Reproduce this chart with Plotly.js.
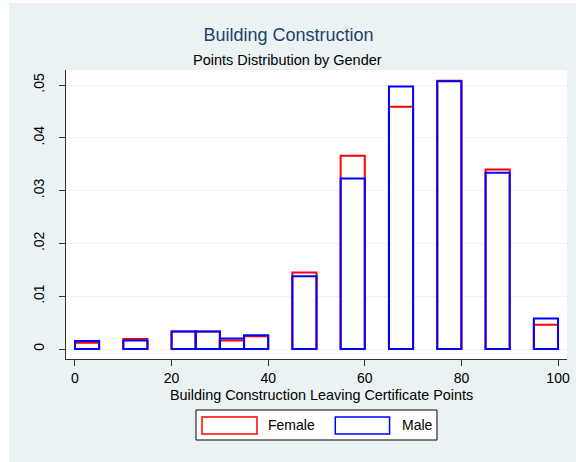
<!DOCTYPE html>
<html>
<head>
<meta charset="utf-8">
<script src="https://cdn.plot.ly/plotly-3.0.1.min.js"></script>
<style>
  html, body { margin: 0; padding: 0; background: #ffffff; }
  #chart { position: absolute; left: 9px; top: 3px; width: 567px; height: 459px; }
</style>
</head>
<body>
<div id="chart"></div>
<script>
// Histogram bins (width 5), bin centres
const binCenters = [2.5, 12.5, 22.5, 27.5, 32.5, 37.5, 47.5, 57.5, 67.5, 77.5, 87.5, 97.5];
const binWidth = 5;
// Densities
const femaleDensity = [0.0012, 0.0019, 0.0033, 0.0033, 0.0016, 0.0024, 0.0145, 0.0366, 0.0459, 0.0508, 0.0340, 0.0046];
const maleDensity   = [0.0015, 0.0016, 0.0033, 0.0033, 0.0020, 0.0026, 0.0138, 0.0323, 0.0497, 0.0507, 0.0334, 0.0058];
const seriesNames = ["Female", "Male"];
const xTickVals = [0, 20, 40, 60, 80, 100];
const yTickVals = [0, 0.01, 0.02, 0.03, 0.04, 0.05];
const yTickText = ["0", ".01", ".02", ".03", ".04", ".05"];

const FONT = "Liberation Sans, Arial, sans-serif";
const BG = "#EAF2F3";

const traces = [
  {
    type: "bar", name: seriesNames[0], x: binCenters, y: femaleDensity,
    width: binCenters.map(() => binWidth),
    marker: { color: "#FFFFFF", line: { color: "#FF0000", width: 2 } },
    hoverinfo: "x+y"
  },
  {
    type: "bar", name: seriesNames[1], x: binCenters, y: maleDensity,
    width: binCenters.map(() => binWidth),
    marker: { color: "rgba(0,0,0,0)", line: { color: "#0000FF", width: 2 } },
    hoverinfo: "x+y"
  }
];

// legend geometry (paper coords)
const L = { x0: 0.2595, x1: 0.7405, y0: -0.2803, y1: -0.1765 };
const layout = {
  width: 567, height: 459,
  paper_bgcolor: BG, plot_bgcolor: "#FFFFFF",
  margin: { l: 57, r: 9, t: 67, b: 103, pad: 0 },
  barmode: "overlay",
  showlegend: false,
  font: { family: FONT, size: 14, color: "#000000" },
  title: {
    text: "Building Construction",
    font: { family: FONT, size: 18, color: "#1F3F6E" },
    x: 0.493, xanchor: "center", xref: "container",
    y: 0.932, yanchor: "middle", yref: "container"
  },
  xaxis: {
    range: [-1.86, 101.86],
    tickvals: xTickVals,
    ticks: "outside", ticklen: 6, tickwidth: 1, tickcolor: "#333333",
    showline: true, linecolor: "#333333", linewidth: 1,
    showgrid: false, zeroline: false,
    tickfont: { family: FONT, size: 14, color: "#000000" }
  },
  yaxis: {
    range: [-0.00189, 0.05284],
    tickvals: yTickVals, ticktext: yTickText,
    tickangle: -90,
    ticks: "outside", ticklen: 6, tickwidth: 1, tickcolor: "#333333",
    ticklabelstandoff: 9,
    showline: true, linecolor: "#333333", linewidth: 1,
    showgrid: true, gridcolor: BG, gridwidth: 1,
    zeroline: false,
    tickfont: { family: FONT, size: 14, color: "#000000" }
  },
  annotations: [
    { text: "Points Distribution by Gender", xref: "paper", yref: "paper",
      x: 0.443, y: 1.036, xanchor: "center", yanchor: "middle", showarrow: false,
      font: { family: FONT, size: 14.5, color: "#000000" } },
    { text: "Building Construction Leaving Certificate Points", xref: "paper", yref: "paper",
      x: 0.509, y: -0.123, xanchor: "center", yanchor: "middle", showarrow: false,
      font: { family: FONT, size: 14.4, color: "#000000" } },
    { text: seriesNames[0], xref: "paper", yref: "paper",
      x: 0.3992, y: -0.2301, xanchor: "left", yanchor: "middle", showarrow: false,
      font: { family: FONT, size: 14, color: "#000000" } },
    { text: seriesNames[1], xref: "paper", yref: "paper",
      x: 0.6667, y: -0.2301, xanchor: "left", yanchor: "middle", showarrow: false,
      font: { family: FONT, size: 14, color: "#000000" } }
  ],
  shapes: [
    { type: "rect", xref: "paper", yref: "paper", x0: L.x0, x1: L.x1, y0: L.y0, y1: L.y1,
      fillcolor: "#FFFFFF", line: { color: "#000000", width: 1 } },
    { type: "rect", xref: "paper", yref: "paper", x0: 0.2715, x1: 0.3812, y0: -0.2595, y1: -0.2007,
      fillcolor: "#FFFFFF", line: { color: "#FF0000", width: 1.5 } },
    { type: "rect", xref: "paper", yref: "paper", x0: 0.5375, x1: 0.6459, y0: -0.2595, y1: -0.2007,
      fillcolor: "#FFFFFF", line: { color: "#0000FF", width: 1.5 } }
  ]
};

Plotly.newPlot("chart", traces, layout, { displayModeBar: false, staticPlot: true });
</script>
</body>
</html>
